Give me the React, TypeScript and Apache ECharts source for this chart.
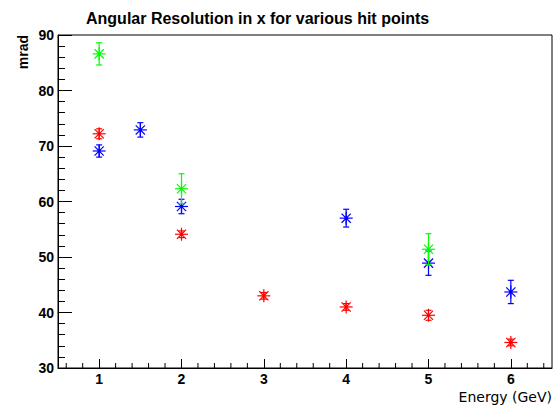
import { useEffect, useRef } from "react";
import * as echarts from "echarts";

// Angular resolution (mrad) versus beam energy (GeV), one set per hit point
const energyRed = [1, 2, 3, 4, 5, 6];
const resolutionRed = [72.2, 54.1, 43.0, 41.0, 39.5, 34.6];
const errorRed = [0.9, 0.6, 0.6, 0.6, 0.9, 0.6];

const energyBlue = [1, 1.5, 2, 4, 5, 6];
const resolutionBlue = [69.1, 72.9, 59.1, 57.0, 48.9, 43.7];
const errorBlue = [1.1, 1.3, 1.3, 1.6, 2.2, 2.1];

const energyGreen = [1, 2, 5];
const resolutionGreen = [86.6, 62.3, 51.4];
const errorGreen = [2.0, 2.7, 2.8];

const X_MIN = 0.5;
const X_MAX = 6.5;
const Y_MIN = 30;
const Y_MAX = 90;

// Minor ticks of the energy axis, every 0.2 GeV (integers carry the major ticks)
const xMinorTicks: number[] = [];
for (let k = 3; k <= 32; k++) {
  const v = Math.round(k * 2) / 10;
  if (Math.abs(v - Math.round(v)) > 1e-6) xMinorTicks.push(v);
}

const TITLE = "Angular Resolution in x for various hit points";
const X_NAME = "Energy (GeV)";
const Y_NAME = "mrad";

function buildPoints(xs: number[], ys: number[], errs: number[]) {
  return xs.map((x, i) => [x, ys[i], errs[i]]);
}

// Asterisk marker with a vertical error bar and end caps
function markerSeries(name: string, color: string, data: number[][]) {
  return {
    type: "custom",
    name,
    data,
    encode: { x: 0, y: 1 },
    clip: false,
    silent: true,
    renderItem: (_params: any, api: any) => {
      const x = api.value(0);
      const y = api.value(1);
      const e = api.value(2);
      const c = api.coord([x, y]);
      const top = api.coord([x, y + e]);
      const bot = api.coord([x, y - e]);
      const s = 6.5;
      const d = 4.6;
      const cap = 3;
      const style = { stroke: color, lineWidth: 1.2 };
      const ln = (x1: number, y1: number, x2: number, y2: number) => ({
        type: "line",
        shape: { x1, y1, x2, y2 },
        style,
      });
      return {
        type: "group",
        children: [
          ln(c[0], top[1], c[0], bot[1]),
          ln(c[0] - cap, top[1], c[0] + cap, top[1]),
          ln(c[0] - cap, bot[1], c[0] + cap, bot[1]),
          ln(c[0] - s, c[1], c[0] + s, c[1]),
          ln(c[0], c[1] - s, c[0], c[1] + s),
          ln(c[0] - d, c[1] - d, c[0] + d, c[1] + d),
          ln(c[0] - d, c[1] + d, c[0] + d, c[1] - d),
          {
            type: "rect",
            shape: { x: c[0] - 1.5, y: c[1] - 1.5, width: 3, height: 3 },
            style: { fill: color },
          },
        ],
      };
    },
  };
}

export default function App() {
  const ref = useRef<HTMLDivElement>(null);

  useEffect(() => {
    if (!ref.current) return;
    const chart = echarts.init(ref.current, undefined, { renderer: "svg" });
    const labelFont = {
      color: "#000",
      fontFamily: "Liberation Sans, Arial, sans-serif",
      fontWeight: "bold" as const,
      fontSize: 14,
    };
    chart.setOption({
      animation: false,
      backgroundColor: "#fff",
      grid: {
        left: 58,
        right: 7,
        top: 35,
        bottom: 40,
        show: true,
        borderColor: "#000",
        borderWidth: 1,
        containLabel: false,
      },
      xAxis: {
        type: "value",
        min: X_MIN,
        max: X_MAX,
        splitNumber: 6,
        axisLine: { show: true, lineStyle: { color: "#000", width: 1 } },
        axisTick: { show: true, inside: true, length: 9, lineStyle: { color: "#000" } },
        axisLabel: { ...labelFont, margin: 4, showMinLabel: false, showMaxLabel: false },
        splitLine: { show: false },
      },
      yAxis: {
        type: "value",
        min: Y_MIN,
        max: Y_MAX,
        interval: 10,
        axisLine: { show: true, lineStyle: { color: "#000", width: 1 } },
        axisTick: { show: true, inside: true, length: 14, lineStyle: { color: "#000" } },
        minorTick: { show: true, splitNumber: 5, length: 7, lineStyle: { color: "#000" } },
        axisLabel: { ...labelFont, margin: 4 },
        splitLine: { show: false },
      },
      graphic: [
        {
          type: "text",
          left: 86,
          top: 10,
          style: {
            text: TITLE,
            fill: "#000",
            font: "bold 16px 'Liberation Sans', Arial, sans-serif",
          },
        },
        {
          type: "text",
          x: 23,
          y: 35,
          rotation: Math.PI / 2,
          style: {
            text: Y_NAME,
            fill: "#000",
            font: "bold 14px 'Liberation Sans', Arial, sans-serif",
            textAlign: "right",
            textVerticalAlign: "middle",
          },
        },
        {
          type: "text",
          x: 552,
          y: 397,
          style: {
            text: X_NAME,
            fill: "#000",
            font: "14px 'DejaVu Sans', sans-serif",
            textAlign: "right",
            textVerticalAlign: "middle",
          },
        },
      ],
      series: [
        {
          type: "custom",
          name: "minor ticks",
          data: xMinorTicks.map((v) => [v, Y_MIN]),
          encode: { x: 0, y: 1 },
          clip: false,
          silent: true,
          renderItem: (_p: any, api: any) => {
            const p = api.coord([api.value(0), api.value(1)]);
            return {
              type: "line",
              shape: { x1: p[0], y1: p[1], x2: p[0], y2: p[1] - 5 },
              style: { stroke: "#000", lineWidth: 1 },
            };
          },
        },
        markerSeries("red", "#ff0000", buildPoints(energyRed, resolutionRed, errorRed)),
        markerSeries("blue", "#0000ff", buildPoints(energyBlue, resolutionBlue, errorBlue)),
        markerSeries("green", "#00ff00", buildPoints(energyGreen, resolutionGreen, errorGreen)),
      ],
    });
    return () => chart.dispose();
  }, []);

  return (
    <div
      ref={ref}
      style={{ position: "absolute", left: 0, top: 0, width: 559, height: 408 }}
    />
  );
}
